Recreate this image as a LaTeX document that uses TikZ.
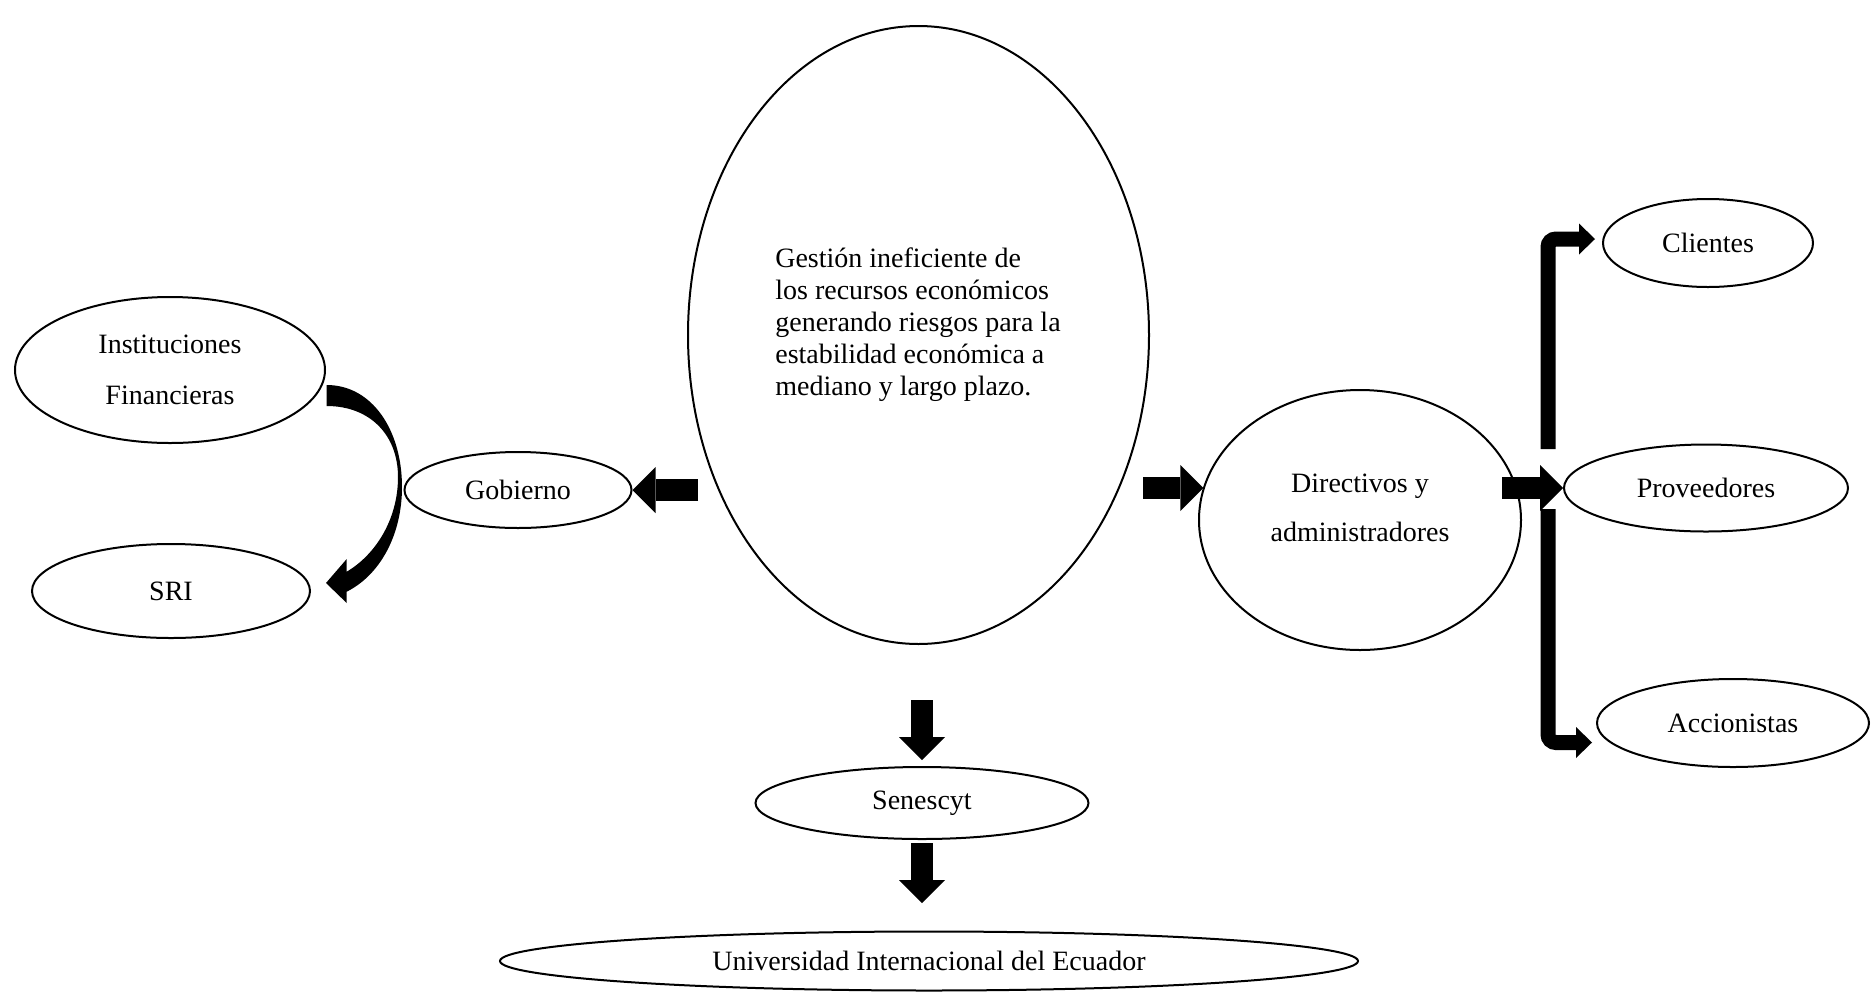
\documentclass[tikz,border=0pt]{standalone}
\usepackage{fontspec}
\setmainfont{Liberation Serif}
\usetikzlibrary{shapes.geometric,arrows.meta}
\tikzset{
  ell/.style={draw, ellipse, line width=1pt, inner sep=0pt, align=center,
    font=\fontsize{14}{16}\selectfont},
  txt/.style={inner sep=0pt, font=\fontsize{14}{16}\selectfont},
  blk/.style={line width=11.25pt, -{Triangle[width=23pt,length=11.5pt,line width=0pt]}},
  bent/.style={line width=7.5pt, rounded corners=4pt, -{Triangle[width=15.5pt,length=8pt,line width=0pt]}},
}
\begin{document}
\begin{tikzpicture}[x=0.5pt,y=-0.5pt]
\useasboundingbox (0,0) rectangle (1876,992);

% ellipses
\node[ell, minimum width=230.5pt, minimum height=309pt] (big) at (918.5,335) {};
\node[txt, align=left] (bigtxt) at (918,325) {Gestión ineficiente de\\los recursos económicos\\generando riesgos para la\\estabilidad económica a\\mediano y largo plazo.};
\node[ell, minimum width=155pt, minimum height=73pt, font=\fontsize{14}{25.5}\selectfont] (inst) at (170,370) {Instituciones\\Financieras};
\node[ell, minimum width=139pt, minimum height=47pt] (sri) at (171,591) {SRI};
\node[ell, minimum width=113.5pt, minimum height=38pt] (gob) at (518,490) {Gobierno};
\node[ell, minimum width=161pt, minimum height=130pt] (dir) at (1360,520) {};
\node[txt, align=center, font=\fontsize{14}{24.5}\selectfont] (dirtxt) at (1360,508) {Directivos y\\administradores};
\node[ell, minimum width=105pt, minimum height=44pt] (cli) at (1708,243) {Clientes};
\node[ell, minimum width=142pt, minimum height=43.5pt] (prov) at (1706,488) {Proveedores};
\node[ell, minimum width=136pt, minimum height=44pt] (acc) at (1733,723) {Accionistas};
\node[ell, minimum width=166.5pt, minimum height=36pt] (sen) at (922,803) {Senescyt};
\node[ell, minimum width=429pt, minimum height=29.5pt] (uni) at (929,961) {Universidad Internacional del Ecuador};

% arrow end points
\coordinate (gA) at (698,490);
\coordinate (dA) at (1143,488);
\coordinate (pA) at (1502,488);
\coordinate (s1) at (922,700);
\coordinate (s1e) at (922,760);
\coordinate (s2) at (922,843);
\coordinate (s2e) at (922,903);
\coordinate (u0) at (1548,449);
\coordinate (u1) at (1595,239);
\coordinate (l0) at (1548,509);
\coordinate (l1) at (1592,742.5);

% block arrows
\draw[blk] (gA) -- (gob.east);
\draw[blk] (dA) -- (dA -| dir.168);
\draw[blk] (pA) -- (prov.west);
\draw[blk] (s1) -- (s1e);
\draw[blk] (s2) -- (s2e);
\draw[bent] (u0) |- (u1);
\draw[bent] (l0) |- (l1);

% curved arrow Instituciones -> SRI
\fill (326.7,385) .. controls (372,385) and (402,430) .. (402,487)
  .. controls (402,535) and (380,575) .. (346.7,591.7)
  -- (346.7,603) -- (326,583) -- (346.7,559) -- (346.7,571.7)
  .. controls (375,555) and (398,520) .. (398,477)
  .. controls (398,435) and (370,406) .. (326.7,406) -- cycle;
\end{tikzpicture}
\end{document}
